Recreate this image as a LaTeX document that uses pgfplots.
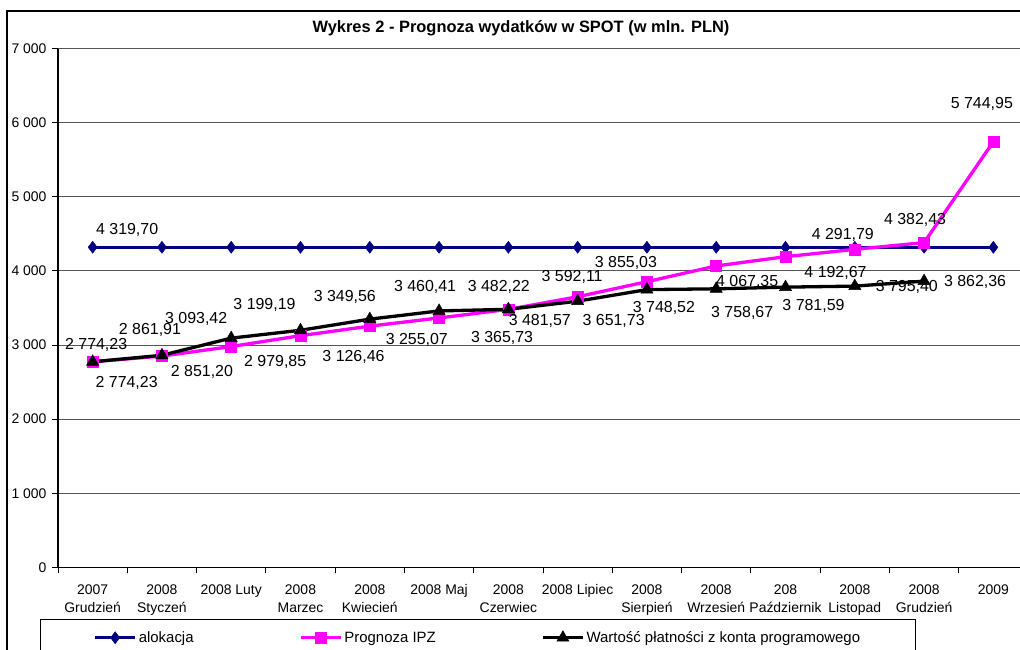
\documentclass[border=0pt]{standalone}
\usepackage{pgfplots}
\pgfplotsset{compat=1.18}
\usepackage{pgfplotstable}
\usepackage{fontspec}
\setmainfont{Liberation Sans}

\definecolor{navyc}{RGB}{0,0,128}
\definecolor{magc}{RGB}{255,0,255}
\definecolor{gridc}{RGB}{85,85,85}

\pgfplotstableread{
x y
0 4319.70
1 4319.70
2 4319.70
3 4319.70
4 4319.70
5 4319.70
6 4319.70
7 4319.70
8 4319.70
9 4319.70
10 4319.70
11 4319.70
12 4319.70
13 4319.70
}\alok

\pgfplotstableread{
x y dx dy
0 4319.70 34.5 17
}\aloklab

\pgfplotstableread{
x y dx dy
0 2774.23 34 -21
1 2851.20 40 -16
2 2979.85 44 -15.5
3 3126.46 53 -21
4 3255.07 47 -14
5 3365.73 63 -20
6 3481.57 31.5 -12
7 3651.73 36 -24
8 3855.03 -21 19
9 4067.35 31 -16
10 4192.67 50 -16
11 4291.79 -12 14
12 4382.43 -9 22.5
13 5744.95 -11.5 37.5
}\ipz

\pgfplotstableread{
x y dx dy
0 2774.23 3.5 16.7
1 2861.91 -12 25
2 3093.42 -35 19
3 3199.19 -36 25
4 3349.56 -25 22
5 3460.41 -14 24
6 3482.22 -9.5 22
7 3592.11 -5.5 24
8 3748.52 17 -18.5
9 3758.67 26 -24
10 3781.59 28 -19
11 3795.40 52 -1
12 3862.36 51 -1
}\wart

\pgfplotsset{
  lbl/.style={
    nodes near coords={\pgfmathprintnumber[fixed, fixed zerofill, precision=2, use comma, 1000 sep={\ }, assume math mode=true]{\pgfplotspointmeta}},
    visualization depends on={\thisrow{dx}\as\dx},
    visualization depends on={\thisrow{dy}\as\dy},
    every node near coord/.append style={anchor=center, xshift=\dx*1bp, yshift=\dy*1bp,
      font=\fontsize{16}{19}\selectfont, text=black, inner sep=0pt},
  },
}

\begin{document}
\begin{tikzpicture}
\useasboundingbox (0,0) rectangle (1020bp,650bp);
\clip (0,0) rectangle (1020bp,650bp);
\fill[white] (0,0) rectangle (1020bp,650bp);
\draw[line width=1.5bp] (7bp,-2bp) -- (7bp,639bp) -- (1025bp,639bp);
\node[font=\bfseries\fontsize{16.5}{19}\selectfont] at (521bp,622bp) {Wykres 2 - Prognoza wydatków w SPOT (w mln. PLN)};
\begin{axis}[
  at={(58bp,82.7bp)}, anchor=south west,
  scale only axis, width=970bp, height=518.6bp,
  xmin=-0.5, xmax=13.5, ymin=0, ymax=7000,
  axis line style={draw=none},
  tick pos=left, tick align=outside, major tick length=6bp,
  every tick/.style={black, line width=1bp},
  xtick={-0.5,0.5,...,13.5},
  x tick label as interval,
  xticklabels={{2007\\Grudzień},{2008\\Styczeń},{2008 Luty},{2008\\Marzec},{2008\\Kwiecień},{2008 Maj},{2008\\Czerwiec},{2008 Lipiec},{2008\\Sierpień},{2008\\Wrzesień},{208\\Październik},{2008\\Listopad},{2008\\Grudzień},{2009}},
  xticklabel style={align=center, font=\fontsize{14}{18.5}\selectfont, anchor=north, yshift=-8bp},
  ytick={0,1000,...,7000},
  yticklabel={\pgfmathprintnumber[fixed, precision=0, 1000 sep={\ }, assume math mode=true]{\tick}},
  yticklabel style={font=\fontsize{14}{17}\selectfont, anchor=east, xshift=-2bp},
  ymajorgrids, grid style={gridc, line width=1bp},
  legend columns=3,
  legend style={at={(-0.01856,-0.0997)}, anchor=north west, draw=black, line width=1bp,
    font=\fontsize{15}{18}\selectfont, inner xsep=53bp, inner ysep=10bp,
    /tikz/every even column/.append style={column sep=103.5bp}},
  legend cell align=left,
  legend image code/.code={\draw[mark repeat=2,mark phase=2,#1] plot coordinates {(0bp,0bp) (20bp,0bp) (40bp,0bp)};},
  after end axis/.code={\draw[black, line width=1.2bp] (rel axis cs:0,1) -- (rel axis cs:0,0) -- (rel axis cs:1,0);},
]
\addplot[navyc, line width=3.3bp, mark=diamond*, mark size=6bp, mark options={solid, line width=0.5bp, fill=navyc}] table[x=x,y=y]{\alok};
\addlegendentry{alokacja}
\addplot[magc, line width=3.3bp, mark=square*, mark size=5.5bp, mark options={solid, line width=0.5bp, fill=magc}] table[x=x,y=y]{\ipz};
\addlegendentry{Prognoza IPZ}
\addplot[black, line width=3.3bp, mark=triangle*, mark size=7bp, mark options={solid, line width=0.5bp, fill=black}] table[x=x,y=y]{\wart};
\addlegendentry{Wartość płatności z konta programowego}
\addplot[draw=none, lbl, forget plot] table[x=x,y=y]{\aloklab};
\addplot[draw=none, lbl, forget plot] table[x=x,y=y]{\ipz};
\addplot[draw=none, lbl, forget plot] table[x=x,y=y]{\wart};
\end{axis}
\end{tikzpicture}
\end{document}
